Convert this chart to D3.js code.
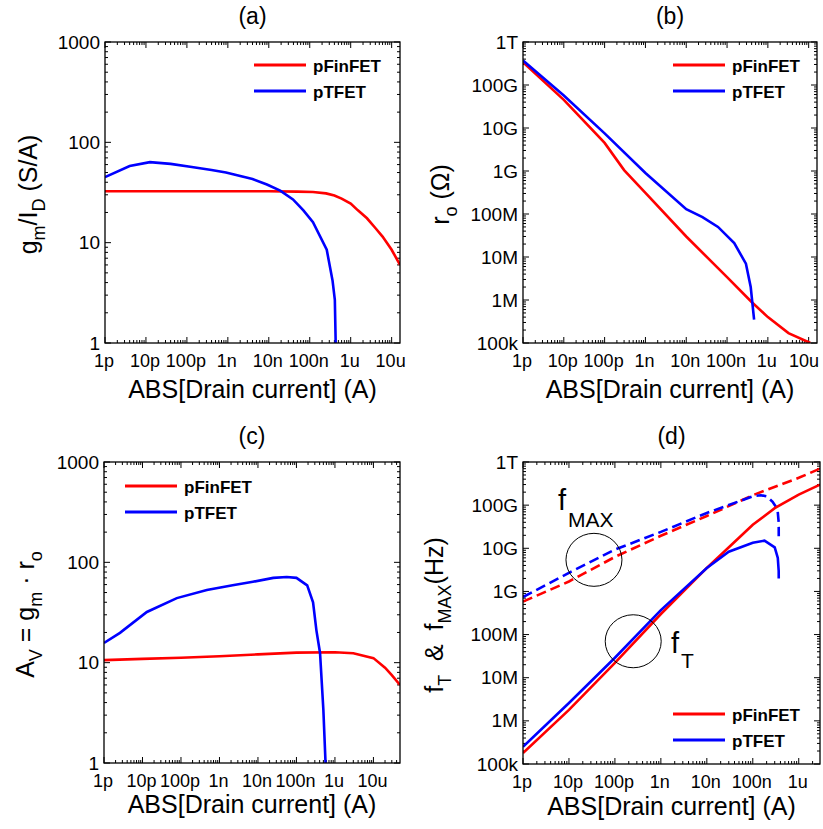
<!DOCTYPE html>
<html>
<head>
<meta charset="utf-8">
<script src="https://cdn.jsdelivr.net/npm/d3@7"></script>
<style>
  body { margin: 0; background: #fff; }
  text { font-family: Arial, "Liberation Sans", sans-serif; }
</style>
</head>
<body>
<script>
// data: [ABS drain current (A), value]
const gmIdFin = [[1e-12,32.5],[1e-11,32.5],[1e-10,32.5],[1e-9,32.5],[1e-8,32.5],[5e-8,32.3],[1.2e-7,32],[2.5e-7,31],
  [4e-7,29.5],[6e-7,27.5],[1e-6,24.5],[1.5e-6,21],[2.5e-6,17.5],[4e-6,14],[6e-6,11.5],[1e-5,8.5],[1.6e-5,6]]
const gmIdTfet = [[1e-12,45],[4e-12,58],[1.25e-11,63.5],[4e-11,61],[1.2e-10,57],[4e-10,53],[9e-10,50],[4e-9,43],
  [9e-9,38],[1.9e-8,33],[3.9e-8,27],[7e-8,21],[1.2e-7,16],[2.6e-7,8.5],[3.6e-7,4.2],[4.1e-7,2.7],[4.3e-7,1]]

const roFin = [[1e-12,3.4e11],[1e-11,4.5e10],[1e-10,4.5e9],[3e-10,1.05e9],[1e-9,3.1e8],[1e-8,3e7],[1e-7,3.4e6],
  [4e-7,9e5],[1e-6,4e5],[3.2e-6,1.7e5],[1.1e-5,1e5]]
const roTfet = [[1e-12,3.7e11],[1e-11,5.7e10],[1e-10,7.5e9],[1e-9,9e8],[1e-8,1.3e8],[2.5e-8,8.5e7],[6e-8,5e7],
  [1.5e-7,2.1e7],[2.9e-7,7e6],[3.8e-7,2e6],[4.6e-7,3.5e5]]

const avFin = [[1e-12,10.6],[1e-11,10.9],[1e-10,11.2],[1e-9,11.6],[1e-8,12.1],[1e-7,12.6],[1e-6,12.7],[3e-6,12.4],
  [1e-5,11.1],[2e-5,8.9],[3e-5,7.5],[4.9e-5,6]]
const avTfet = [[1e-12,15.7],[2.6e-12,19.8],[1.3e-11,32],[7.8e-11,44],[4.7e-10,53],[2.2e-9,59],[7.4e-9,64],[2.5e-8,70],
  [5.6e-8,71.5],[1e-7,70],[1.9e-7,59],[2.7e-7,40],[3.3e-7,21],[4.1e-7,12.5],[5e-7,3.4],[5.7e-7,1]]

const ftFin = [[1e-12,1.8e5],[1e-11,1.8e6],[1e-10,2.2e7],[1e-9,3e8],[1e-8,3.5e9],[1e-7,3.5e10],[3e-7,8.5e10],
  [1e-6,1.75e11],[2.9e-6,3e11]]
const ftTfet = [[1e-12,2.5e5],[1e-11,2.6e6],[1e-10,2.9e7],[1e-9,3.7e8],[1e-8,3.5e9],[3e-8,8.3e9],[1e-7,1.35e10],
  [1.8e-7,1.5e10],[3e-7,1.05e10],[3.5e-7,6e9],[3.66e-7,3e9],[3.67e-7,2e9]]
const fmaxFin = [[1e-12,5.8e8],[1e-11,1.7e9],[1e-10,6.3e9],[1e-9,1.95e10],[1e-8,5.6e10],[1e-7,1.7e11],
  [1e-6,4.3e11],[2.9e-6,7e11]]
const fmaxTfet = [[1e-12,7.4e8],[1e-11,2.7e9],[1e-10,9.3e9],[1e-9,2.4e10],[1e-8,6.6e10],[1e-7,1.6e11],[1.5e-7,1.7e11],
  [2e-7,1.6e11],[2.7e-7,1.2e11],[3.45e-7,8e10],[3.66e-7,4e10],[3.67e-7,1.9e10]]

const xTickLabels = ["1p","10p","100p","1n","10n","100n","1u","10u"]
const yTickLabelsGain = ["1","10","100","1000"]
const yTickLabelsSI = ["100k","1M","10M","100M","1G","10G","100G","1T"]
const seriesNames = ["pFinFET","pTFET"]
const seriesColors = ["#ff0000","#0000ff"]

var svg = d3.select("body").append("svg").attr("width", 823).attr("height", 829)

// writes text with subscripts, parts = [[string, isSub], ...]
function rich(sel, parts, size, subSize, shift) {
  let low = false
  parts.forEach(function(p) {
    let ts = sel.append("tspan").text(p[0])
    if (p[1] && !low) { ts.attr("dy", shift).attr("font-size", subSize); low = true }
    else if (p[1]) { ts.attr("font-size", subSize) }
    else if (low) { ts.attr("dy", -shift).attr("font-size", size); low = false }
    else ts.attr("font-size", size)
  })
}

function panel(p) {
  var g = svg.append("g")
  var x = d3.scaleLog().domain(p.xDomain).range([p.left, p.right])
  var y = d3.scaleLog().domain(p.yDomain).range([p.bottom, p.top])

  var clipId = "clip" + p.title
  svg.append("clipPath").attr("id", clipId).append("rect")
    .attr("x", p.left).attr("y", p.top).attr("width", p.right - p.left).attr("height", p.bottom - p.top)

  // minor + major ticks on all four sides, pointing in
  var xd0 = Math.round(Math.log10(p.xDomain[0])), xd1 = Math.floor(Math.log10(p.xDomain[1]))
  for (let d = xd0; d <= xd1; d++) {
    for (let m = 1; m <= 9; m++) {
      let v = m * Math.pow(10, d)
      if (v > p.xDomain[1] * 1.0001) continue
      let len = m == 1 ? 6 : 3
      g.append("line").attr("x1", x(v)).attr("x2", x(v)).attr("y1", p.bottom).attr("y2", p.bottom - len)
        .attr("stroke", "black").attr("stroke-width", 1)
      g.append("line").attr("x1", x(v)).attr("x2", x(v)).attr("y1", p.top).attr("y2", p.top + len)
        .attr("stroke", "black").attr("stroke-width", 1)
    }
  }
  var yd0 = Math.round(Math.log10(p.yDomain[0])), yd1 = Math.round(Math.log10(p.yDomain[1]))
  for (let d = yd0; d <= yd1; d++) {
    for (let m = 1; m <= 9; m++) {
      let v = m * Math.pow(10, d)
      if (v > p.yDomain[1] * 1.0001) continue
      let len = m == 1 ? 6 : 3
      g.append("line").attr("y1", y(v)).attr("y2", y(v)).attr("x1", p.left).attr("x2", p.left + len)
        .attr("stroke", "black").attr("stroke-width", 1)
      g.append("line").attr("y1", y(v)).attr("y2", y(v)).attr("x1", p.right).attr("x2", p.right - len)
        .attr("stroke", "black").attr("stroke-width", 1)
    }
  }

  // x tick labels (last one kept inside the page)
  xTickLabels.forEach(function(t, i) {
    let v = Math.pow(10, -12 + i)
    if (v > p.xDomain[1]) return
    let tx = Math.min(x(v) - 1, 804)
    g.append("text").attr("x", tx).attr("y", p.bottom + 24).attr("text-anchor", "middle")
      .attr("font-size", 18).text(t)
  })
  // y tick labels
  p.yLabels.forEach(function(t, i) {
    let v = p.yDomain[0] * Math.pow(10, i)
    g.append("text").attr("x", p.left - 5).attr("y", y(v)).attr("text-anchor", "end")
      .attr("dominant-baseline", "central").attr("font-size", 19).text(t)
  })

  // curves
  var line = d3.line().x(d => x(d[0])).y(d => y(d[1]))
  var curves = g.append("g").attr("clip-path", "url(#" + clipId + ")")
  p.series.forEach(function(s) {
    curves.append("path").attr("d", line(s.data)).attr("fill", "none")
      .attr("stroke", s.color).attr("stroke-width", 2.6)
      .attr("stroke-dasharray", s.dash ? "10,5" : null)
  })

  // frame
  g.append("rect").attr("x", p.left).attr("y", p.top).attr("width", p.right - p.left)
    .attr("height", p.bottom - p.top).attr("fill", "none").attr("stroke", "black").attr("stroke-width", 1.3)

  // title and axis labels
  var cx = (p.left + p.right) / 2
  g.append("text").attr("x", cx).attr("y", p.top - 18).attr("text-anchor", "middle")
    .attr("font-size", 23).text("(" + p.title + ")")
  g.append("text").attr("x", cx).attr("y", p.bottom + p.xLabelGap).attr("text-anchor", "middle")
    .attr("font-size", 25).text("ABS[Drain current] (A)")
  var yl = g.append("text").attr("text-anchor", "middle").style("white-space", "pre")
    .attr("transform", "translate(" + p.yLabelX + "," + ((p.top + p.bottom) / 2 + 2) + ") rotate(-90)")
  rich(yl, p.yTitle, 25, 18, 8)

  // legend
  seriesNames.forEach(function(n, i) {
    let ly = p.legendY + i * 26
    g.append("line").attr("x1", p.legendX).attr("x2", p.legendX + 52).attr("y1", ly).attr("y2", ly)
      .attr("stroke", seriesColors[i]).attr("stroke-width", 3)
    g.append("text").attr("x", p.legendX + 59).attr("y", ly + 7).attr("font-size", 17)
      .attr("font-weight", "bold").text(n)
  })

  return {x: x, y: y, g: g}
}

panel({title: "a", left: 105, right: 400, top: 42, bottom: 343, xDomain: [1e-12, 1.6e-5], yDomain: [1, 1000],
  yLabels: yTickLabelsGain, xLabelGap: 55, yLabelX: 37, legendX: 254, legendY: 65,
  yTitle: [["g"],["m",1],["/I"],["D",1],[" (S/A)"]],
  series: [{data: gmIdFin, color: seriesColors[0]}, {data: gmIdTfet, color: seriesColors[1]}]})

panel({title: "b", left: 523, right: 817, top: 42, bottom: 343, xDomain: [1e-12, 1.6e-5], yDomain: [1e5, 1e12],
  yLabels: yTickLabelsSI, xLabelGap: 55, yLabelX: 449, legendX: 673, legendY: 65,
  yTitle: [["r"],["o",1],[" (\u03A9)"]],
  series: [{data: roFin, color: seriesColors[0]}, {data: roTfet, color: seriesColors[1]}]})

panel({title: "c", left: 104, right: 400, top: 462, bottom: 763, xDomain: [1e-12, 4.9e-5], yDomain: [1, 1000],
  yLabels: yTickLabelsGain, xLabelGap: 50, yLabelX: 34, legendX: 125, legendY: 486,
  yTitle: [["A"],["V",1],[" = g"],["m",1],[" \u00B7 r"],["o",1]],
  series: [{data: avFin, color: seriesColors[0]}, {data: avTfet, color: seriesColors[1]}]})

var d = panel({title: "d", left: 523, right: 820, top: 462, bottom: 764, xDomain: [1e-12, 2.9e-6], yDomain: [1e5, 1e12],
  yLabels: yTickLabelsSI, xLabelGap: 51, yLabelX: 443, legendX: 673, legendY: 714,
  yTitle: [["f"],["T",1],["\u00A0 &\u00A0 f"],["MAX",1],["(Hz)"]],
  series: [{data: fmaxFin, color: seriesColors[0], dash: true}, {data: fmaxTfet, color: seriesColors[1], dash: true},
           {data: ftFin, color: seriesColors[0]}, {data: ftTfet, color: seriesColors[1]}]})

// annotation circles and labels in panel (d)
const circleCenters = [[3.5e-11, 5.4e9], [2.5e-10, 7e7]]
circleCenters.forEach(function(c) {
  d.g.append("ellipse").attr("cx", d.x(c[0])).attr("cy", d.y(c[1])).attr("rx", 28).attr("ry", 26.5)
    .attr("fill", "none").attr("stroke", "black").attr("stroke-width", 1)
})
var fmaxAt = [5.8e-12, 7.8e10]
d.g.append("text").attr("x", d.x(fmaxAt[0])).attr("y", d.y(fmaxAt[1])).attr("font-size", 29).text("f")
d.g.append("text").attr("x", d.x(fmaxAt[0]) + 10).attr("y", d.y(fmaxAt[1]) + 17).attr("font-size", 21).text("MAX")
d.g.append("text").attr("x", 671).attr("y", 653).attr("font-size", 29).text("f")
d.g.append("text").attr("x", 681).attr("y", 668).attr("font-size", 21).text("T")
</script>
</body>
</html>
